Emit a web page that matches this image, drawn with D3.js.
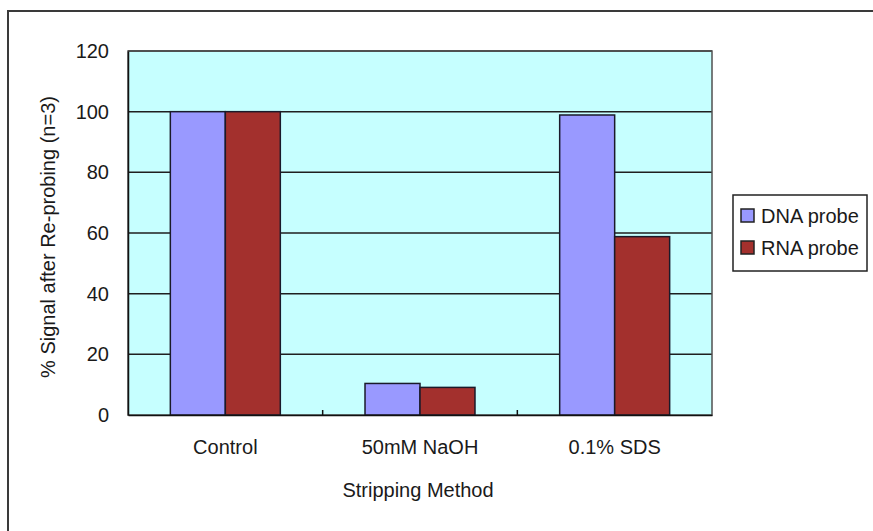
<!DOCTYPE html>
<html>
<head>
<meta charset="utf-8">
<script src="https://cdn.jsdelivr.net/npm/d3@7"></script>
<style>
  html, body { margin: 0; padding: 0; background: #fff; }
  svg { display: block; }
  text { font-family: "Liberation Sans", Arial, sans-serif; fill: #1a1a1a; }
</style>
</head>
<body>
<svg id="chart" width="873" height="531"></svg>
<script>
// Stripping method results
const categories = ["Control", "50mM NaOH", "0.1% SDS"];
const seriesNames = ["DNA probe", "RNA probe"];
const dnaValues = [100, 10.4, 98.9];
const rnaValues = [100, 9.1, 58.8];
const yTicks = [0, 20, 40, 60, 80, 100, 120];
const yTitle = "% Signal after Re-probing (n=3)";
const xTitle = "Stripping Method";

const colors = { "DNA probe": "#9999ff", "RNA probe": "#a3302d" };
const seriesValues = { "DNA probe": dnaValues, "RNA probe": rnaValues };

const svg = d3.select("#chart");
const plot = { left: 128, top: 51, right: 712, bottom: 415 };

// Chart area frame
svg.append("path")
  .attr("d", "M8,540 L8,11 L880,11")
  .attr("fill", "none")
  .attr("stroke", "#3a3a3a")
  .attr("stroke-width", 2);

const x = d3.scaleBand().domain(categories).range([plot.left, plot.right]).padding(0);
const xs = d3.scaleBand().domain(seriesNames).range([0, x.bandwidth()])
  .paddingInner(0).paddingOuter(0.77);
const y = d3.scaleLinear().domain([0, 120]).range([plot.bottom, plot.top]);

// Plot background
svg.append("rect")
  .attr("x", plot.left).attr("y", plot.top)
  .attr("width", plot.right - plot.left).attr("height", plot.bottom - plot.top)
  .attr("fill", "#c6ffff");

// Gridlines
svg.append("g")
  .selectAll("line")
  .data(yTicks.filter(d => d > 0))
  .join("line")
  .attr("x1", plot.left).attr("x2", plot.right)
  .attr("y1", d => y(d)).attr("y2", d => y(d))
  .attr("stroke", "#1f1f1f").attr("stroke-width", 1.5);

// Plot border
svg.append("rect")
  .attr("x", plot.left).attr("y", plot.top)
  .attr("width", plot.right - plot.left).attr("height", plot.bottom - plot.top)
  .attr("fill", "none").attr("stroke", "#505050").attr("stroke-width", 1.5);

// Bars
const rows = categories.flatMap((c, i) =>
  seriesNames.map(s => ({ cat: c, series: s, value: seriesValues[s][i] })));

svg.append("g")
  .selectAll("rect")
  .data(rows)
  .join("rect")
  .attr("x", d => x(d.cat) + xs(d.series))
  .attr("y", d => y(d.value))
  .attr("width", xs.bandwidth())
  .attr("height", d => y(0) - y(d.value))
  .attr("fill", d => colors[d.series])
  .attr("stroke", "#1a1a2a")
  .attr("stroke-width", 1.5);

// Y axis
const yAxis = d3.axisLeft(y).tickValues(yTicks).tickSize(0).tickPadding(19);
const yG = svg.append("g").attr("transform", `translate(${plot.left},0)`).call(yAxis);
yG.select(".domain").attr("stroke", "#111").attr("stroke-width", 1.5);
yG.selectAll("text").attr("font-size", 20).style("font-family", "'Liberation Sans', Arial, sans-serif").attr("fill", "#1a1a1a");

// X axis with category boundary ticks pointing inward
const xAxis = d3.axisBottom(x).tickSize(0).tickPadding(25);
const xG = svg.append("g").attr("transform", `translate(0,${plot.bottom})`).call(xAxis);
xG.select(".domain").attr("stroke", "#111").attr("stroke-width", 1.5);
xG.selectAll("text").attr("font-size", 20).style("font-family", "'Liberation Sans', Arial, sans-serif").attr("fill", "#1a1a1a");
svg.append("g")
  .selectAll("line")
  .data(categories.slice(1))
  .join("line")
  .attr("x1", d => x(d)).attr("x2", d => x(d))
  .attr("y1", plot.bottom).attr("y2", plot.bottom - 5)
  .attr("stroke", "#111").attr("stroke-width", 1.5);

// Axis titles
svg.append("text")
  .attr("transform", `translate(48,${(plot.top + plot.bottom) / 2 + 4}) rotate(-90)`)
  .attr("text-anchor", "middle")
  .attr("dominant-baseline", "central")
  .attr("font-size", 20)
  .text(yTitle);

svg.append("text")
  .attr("x", (plot.left + plot.right) / 2 - 2)
  .attr("y", 497)
  .attr("text-anchor", "middle")
  .attr("font-size", 20)
  .text(xTitle);

// Legend
const legend = svg.append("g").attr("transform", "translate(733,195)");
legend.append("rect")
  .attr("width", 134).attr("height", 76)
  .attr("fill", "#fff").attr("stroke", "#222").attr("stroke-width", 1.5);
const items = legend.selectAll("g.item")
  .data(seriesNames)
  .join("g")
  .attr("class", "item")
  .attr("transform", (d, i) => `translate(8,${14 + i * 32})`);
items.append("rect")
  .attr("width", 13).attr("height", 13)
  .attr("fill", d => colors[d])
  .attr("stroke", "#222").attr("stroke-width", 1.5);
items.append("text")
  .attr("x", 20).attr("y", 14)
  .attr("font-size", 20)
  .text(d => d);
</script>
</body>
</html>
